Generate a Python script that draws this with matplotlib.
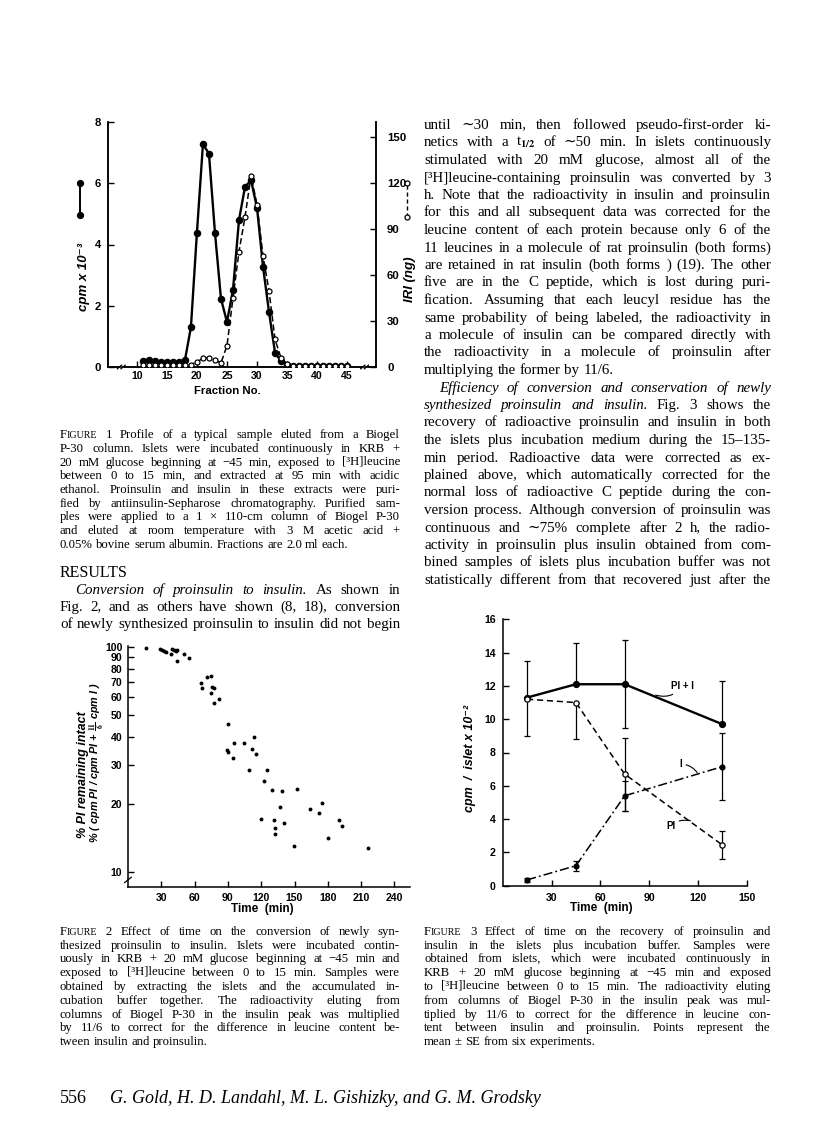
import math
import matplotlib
matplotlib.use('Agg')
import matplotlib.pyplot as plt
from matplotlib.ticker import FixedLocator, NullLocator, FixedFormatter

W, H = 816, 1127
SERIF = ['Liberation Serif', 'DejaVu Serif']
SANS = ['Liberation Sans', 'DejaVu Sans']

plt.rcParams['font.family'] = SANS
plt.rcParams['font.weight'] = 'bold'
plt.rcParams['mathtext.fontset'] = 'stix'

# ---- Figure 1: elution profile (fraction number)
fractions = list(range(11, 46))
cpm_e3 = [0.20, 0.22, 0.18, 0.15, 0.15, 0.17, 0.17, 0.22, 1.30, 4.39,
          7.27, 6.97, 4.39, 2.23, 1.47, 2.52, 4.80, 5.88, 6.10, 5.20,
          3.27, 1.79, 0.46, 0.19, 0.08, 0.03, 0.03, 0.03, 0.03, 0.03,
          0.03, 0.03, 0.03, 0.03, 0.03]
iri_ng = [1.0, 1.0, 1.0, 1.0, 1.0, 1.0, 1.0, 1.0, 1.6, 3.2,
          5.8, 5.8, 4.8, 2.6, 14.0, 45.0, 75.4, 98.0, 125.0, 106.0,
          72.4, 49.6, 18.0, 5.8, 2.0, 0.6, 0.6, 0.6, 0.6, 0.6,
          0.6, 0.6, 0.6, 0.6, 0.6]

# ---- Figure 2: % PI remaining intact vs time
time2 = [15.8, 28.7, 30.5, 32.3, 34.0, 38.5, 39.8, 41.5, 43.0, 44.0,
         44.4, 50.3, 54.8, 65.5, 67.0, 71.6, 75.2, 74.6, 76.0, 77.9,
         77.9, 82.4, 89.9, 89.4, 89.9, 94.5, 95.9, 104.9, 109.4, 113.9,
         111.5, 115.4, 124.9, 122.2, 129.9, 138.6, 152.1, 137.1, 119.8, 131.8,
         140.2, 132.1, 132.1, 149.5, 163.6, 172.0, 174.8, 179.9, 190.4, 192.6,
         216.5]
pi_intact = [98.7, 97.6, 96.5, 96.0, 95.2, 93.1, 98.0, 96.8, 95.5, 97.0,
             86.6, 93.0, 89.0, 69.0, 65.9, 73.3, 74.3, 62.2, 66.4, 66.0,
             56.2, 58.6, 45.4, 34.9, 34.3, 32.3, 37.3, 37.5, 28.4, 40.0,
             35.2, 33.6, 28.4, 25.5, 23.2, 23.0, 23.3, 19.5, 17.2, 17.05,
             16.6, 15.7, 14.8, 13.1, 19.1, 18.3, 20.3, 14.2, 17.0, 16.0,
             12.8]

# ---- Figure 3: recovery (mean +/- SE)
time3 = [15, 45, 75, 135]
pi_plus_i = [11.3, 12.1, 12.1, 9.7]
pi_plus_i_lo = [0.0, 0.0, 2.65, 0.0]
pi_plus_i_hi = [2.2, 2.45, 2.65, 2.6]
pi_only = [11.2, 11.0, 6.7, 2.45]
pi_only_lo = [2.2, 2.2, 2.2, 0.85]
pi_only_hi = [0.0, 0.0, 2.2, 0.85]
ins_only = [0.35, 1.2, 5.4, 7.15]
ins_only_err = [0.1, 0.3, 0.9, 2.0]

# ---- page text  (*word = italic, ^Word = small caps)
caption1 = [
    "^Figure 1  Profile of a typical sample eluted from a Biogel",
    "P-30 column. Islets were incubated continuously in KRB +",
    "20 mM glucose beginning at \u221245 min, exposed to [\u00b3H]leucine",
    "between 0 to 15 min, and extracted at 95 min with acidic",
    "ethanol. Proinsulin and insulin in these extracts were puri-",
    "fied by antiinsulin-Sepharose chromatography. Purified sam-",
    "ples were applied to a 1 \u00d7 110-cm column of Biogel P-30",
    "and eluted at room temperature with 3 M acetic acid +",
    "0.05% bovine serum albumin. Fractions are 2.0 ml each.",
]
results_lines = [
    "*Conversion *of *proinsulin *to *insulin.  As shown in",
    "Fig. 2, and as others have shown (8, 18), conversion",
    "of newly synthesized proinsulin to insulin did not begin",
]
right_body = [
    "until \u223c30 min, then followed pseudo-first-order ki-",
    "netics with a t$_{1/2}$ of \u223c50 min. In islets continuously",
    "stimulated with 20 mM glucose, almost all of the",
    "[\u00b3H]leucine-containing proinsulin was converted by 3",
    "h. Note that the radioactivity in insulin and proinsulin",
    "for this and all subsequent data was corrected for the",
    "leucine content of each protein because only 6 of the",
    "11 leucines in a molecule of rat proinsulin (both forms)",
    "are retained in rat insulin (both forms ) (19). The other",
    "five are in the C peptide, which is lost during puri-",
    "fication. Assuming that each leucyl residue has the",
    "same probability of being labeled, the radioactivity in",
    "a molecule of insulin can be compared directly with",
    "the radioactivity in a molecule of proinsulin after",
    "multiplying the former by 11/6.",
    "*Efficiency *of *conversion *and *conservation *of *newly",
    "*synthesized *proinsulin *and *insulin.  Fig. 3 shows the",
    "recovery of radioactive proinsulin and insulin in both",
    "the islets plus incubation medium during the 15\u2013135-",
    "min period. Radioactive data were corrected as ex-",
    "plained above, which automatically corrected for the",
    "normal loss of radioactive C peptide during the con-",
    "version process. Although conversion of proinsulin was",
    "continuous and \u223c75% complete after 2 h, the radio-",
    "activity in proinsulin plus insulin obtained from com-",
    "bined samples of islets plus incubation buffer was not",
    "statistically different from that recovered just after the",
]
caption2 = [
    "^Figure 2  Effect of time on the conversion of newly syn-",
    "thesized proinsulin to insulin. Islets were incubated contin-",
    "uously in KRB + 20 mM glucose beginning at \u221245 min and",
    "exposed to [\u00b3H]leucine between 0 to 15 min. Samples were",
    "obtained by extracting the islets and the accumulated in-",
    "cubation buffer together. The radioactivity eluting from",
    "columns of Biogel P-30 in the insulin peak was multiplied",
    "by 11/6 to correct for the difference in leucine content be-",
    "tween insulin and proinsulin.",
]
caption3 = [
    "^Figure 3  Effect of time on the recovery of proinsulin and",
    "insulin in the islets plus incubation buffer. Samples were",
    "obtained from islets, which were incubated continuously in",
    "KRB + 20 mM glucose beginning at \u221245 min and exposed",
    "to [\u00b3H]leucine between 0 to 15 min. The radioactivity eluting",
    "from columns of Biogel P-30 in the insulin peak was mul-",
    "tiplied by 11/6 to correct for the difference in leucine con-",
    "tent between insulin and proinsulin. Points represent the",
    "mean \u00b1 SE from six experiments.",
]


def fx(x):
    return x / W


def fy(y):
    return 1 - y / H


fig = plt.figure(figsize=(W / 100, H / 100), dpi=100)
fig.patch.set_facecolor('white')
rend = fig.canvas.get_renderer()


def word_pieces(w, size):
    if w.startswith('*'):
        return [(w[1:], size, 'italic')]
    if w.startswith('^'):
        w = w[1:]
        return [(w[0], size, 'normal'), (w[1:].upper(), size * 0.78, 'normal')]
    return [(w, size, 'normal')]


def pixel_drift(t, txt):
    # Agg rounds the glyph bitmap differently per word; work out by how
    # many pixels this word lands below its baseline so it can be undone
    if '$' in txt:
        return 0
    _, h, d = rend.get_text_width_height_descent(txt, t.get_fontproperties(), ismath=False)
    return round(d) - math.floor(h) + math.floor(h - d)


def set_line(line, x0, x1, y, size, justify=True, indent=0):
    # place word by word so the line fills the column
    y = round(y)
    words = []
    for w in line.split():
        pcs = []
        for txt, sz, st in word_pieces(w, size):
            t = fig.text(fx(x0), fy(y), txt, fontsize=sz, family=SERIF,
                         style=st, weight='normal', va='baseline', ha='left')
            t.set_y(fy(y - pixel_drift(t, txt)))
            pcs.append((t, t.get_window_extent(rend).width))
        words.append(pcs)
    used = sum(wd for pcs in words for _, wd in pcs)
    if justify and len(words) > 1:
        gap = (x1 - x0 - indent - used) / (len(words) - 1)
    else:
        gap = size * 100 / 72 * 0.25
    x = x0 + indent
    for pcs in words:
        for t, wd in pcs:
            t.set_x(fx(x))
            x += wd
        x += gap


def set_block(lines, x0, x1, y0, step, size, ragged=(), indented=(), indent=15):
    for i, line in enumerate(lines):
        set_line(line, x0, x1, y0 + i * step, size,
                 justify=(i not in ragged), indent=(indent if i in indented else 0))


def style_ticks(ax, size=7.5, pad=4):
    ax.tick_params(direction='in', length=4, width=1.0, labelsize=size, pad=pad)
    for lab in ax.get_xticklabels() + ax.get_yticklabels():
        lab.set_fontweight('bold')


# ================= Figure 1 =================
ax1 = fig.add_axes([fx(108), fy(367), (376 - 108) / W, (367 - 122) / H])
ax1.set_xlim(5.2, 49.8)
ax1.set_ylim(0, 8)
ax1.plot(fractions, cpm_e3, '-o', color='black', lw=1.7, ms=4.4, zorder=3)
ax1.set_xticks(range(10, 50, 5))
ax1.set_yticks([0, 2, 4, 6, 8])
ax1.spines['top'].set_visible(False)
for s in ax1.spines.values():
    s.set_linewidth(1.1)
style_ticks(ax1, size=8.2, pad=5)
ax1.tick_params(axis='x', labelsize=7.6, pad=3)

ax1r = ax1.twinx()
ax1r.set_ylim(0, 160)
ax1r.plot(fractions, iri_ng, '--o', color='black', lw=1.1, dashes=(4, 2),
          ms=3.6, mfc='white', mec='black', mew=0.9, zorder=4)
ax1r.set_yticks([0, 30, 60, 90, 120, 150])
ax1r.spines['top'].set_visible(False)
for s in ax1r.spines.values():
    s.set_linewidth(1.1)
style_ticks(ax1r, size=8.2, pad=8)

# axis breaks on the fraction axis
for xb in (7.2, 47.7):
    ax1.plot([xb - 0.15, xb + 0.55], [0, 0], color='white', lw=2.5,
             clip_on=False, zorder=5, solid_capstyle='butt')
    for dx in (0.0, 0.6):
        ax1.plot([xb - 0.45 + dx, xb + 0.25 + dx], [-0.06, 0.06], color='black',
                 lw=0.9, clip_on=False, zorder=6)

# line keys beside each axis
ax1.plot([0.5, 0.5], [4.95, 6.0], '-o', color='black', lw=1.4, ms=4.2, clip_on=False)
ax1r.plot([55.0, 55.0], [98, 120], '--o', color='black', lw=1.0, dashes=(3, 2),
          ms=3.6, mfc='white', mec='black', mew=0.9, clip_on=False)

fig.text(fx(84), fy(277), 'cpm x 10\u207b\u00b3', rotation=90, ha='center', va='center',
         fontsize=9.5, style='italic', weight='bold', family=SANS)
fig.text(fx(410), fy(279), 'IRI (ng)', rotation=90, ha='center', va='center',
         fontsize=9.5, style='italic', weight='bold', family=SANS)
fig.text(fx(227), fy(391), 'Fraction No.', ha='center', va='center',
         fontsize=8.2, weight='bold', family=SANS)

# ================= Figure 2 =================
ax2 = fig.add_axes([fx(128), fy(887), (410 - 128) / W, (887 - 646) / H])
ax2.set_yscale('log')
ax2.set_xlim(0, 254)
ax2.set_ylim(8.6, 101)
ax2.plot(time2, pi_intact, 'o', color='black', ms=2.8, mew=0)
ax2.xaxis.set_major_locator(FixedLocator([30, 60, 90, 120, 150, 180, 210, 240]))
yt2 = [10, 20, 30, 40, 50, 60, 70, 80, 90, 100]
ax2.yaxis.set_major_locator(FixedLocator(yt2))
ax2.yaxis.set_major_formatter(FixedFormatter([str(v) for v in yt2]))
ax2.yaxis.set_minor_locator(NullLocator())
ax2.spines['top'].set_visible(False)
ax2.spines['right'].set_visible(False)
for s in ax2.spines.values():
    s.set_linewidth(1.1)
style_ticks(ax2, size=7.6, pad=4)
ax2.plot([-3, 3], [9.0, 9.5], color='black', lw=0.9, clip_on=False)

fig.text(fx(83), fy(775), '% PI remaining intact', rotation=90, ha='center', va='center',
         fontsize=9, style='italic', weight='bold', family=SANS)
fig.text(fx(98), fy(763), r'% ( cpm PI / cpm PI + $\mathbf{\frac{11}{6}}$ cpm I )', rotation=90,
         ha='center', va='center', fontsize=7.8, style='italic', weight='bold', family=SANS)
fig.text(fx(262), fy(909), 'Time  (min)', ha='center', va='center',
         fontsize=8.5, weight='bold', family=SANS)

# ================= Figure 3 =================
ax3 = fig.add_axes([fx(502.7), fy(885.7), (746.7 - 502.7) / W, (885.7 - 619.3) / H])
ax3.set_xlim(0, 150)
ax3.set_ylim(0, 16)
ax3.errorbar(time3, pi_plus_i, yerr=[pi_plus_i_lo, pi_plus_i_hi], fmt='-o', color='black',
             lw=1.7, ms=4.2, elinewidth=0.9, capsize=2.5, capthick=0.9, zorder=3)
ax3.errorbar(time3, pi_only, yerr=[pi_only_lo, pi_only_hi], fmt='--o', color='black',
             lw=1.1, dashes=(4, 2.5), ms=3.8, mfc='white', mec='black', mew=0.9,
             elinewidth=0.9, capsize=2.5, capthick=0.9, zorder=4)
ax3.errorbar(time3, ins_only, yerr=ins_only_err, fmt='-o', color='black',
             lw=1.1, dashes=(6, 2, 1.2, 2), ms=3.4, elinewidth=0.9, capsize=2.5,
             capthick=0.9, zorder=3)
ax3.set_xticks([30, 60, 90, 120, 150])
ax3.set_yticks(range(0, 17, 2))
ax3.spines['top'].set_visible(False)
ax3.spines['right'].set_visible(False)
for s in ax3.spines.values():
    s.set_linewidth(1.1)
style_ticks(ax3, size=7.6, pad=5)

lead = dict(arrowstyle='-', lw=0.8, color='black', shrinkA=1, shrinkB=0)
ax3.annotate('PI + I', xy=(94.0, 11.45), xytext=(103.5, 12.0), fontsize=7, weight='bold',
             va='center', family=SANS,
             arrowprops=dict(connectionstyle='arc3,rad=-0.35', **lead))
ax3.annotate('I', xy=(119.5, 6.8), xytext=(108.6, 7.3), fontsize=7, weight='bold',
             va='center', family=SANS,
             arrowprops=dict(connectionstyle='arc3,rad=-0.25', **lead))
ax3.annotate('PI', xy=(115.5, 3.9), xytext=(100.4, 3.6), fontsize=7, weight='bold',
             va='center', family=SANS,
             arrowprops=dict(connectionstyle='arc3,rad=-0.25', **lead))

fig.text(fx(470), fy(758), 'cpm  /  islet x 10\u207b\u00b2', rotation=90, ha='center',
         va='center', fontsize=9, style='italic', weight='bold', family=SANS)
fig.text(fx(601), fy(908), 'Time  (min)', ha='center', va='center',
         fontsize=8.5, weight='bold', family=SANS)

# ================= text columns =================
set_block(caption1, 60, 400, 438, 13.75, 9.2, ragged={8})
fig.text(fx(60), fy(577), 'RESULTS', fontsize=11.5, family=SERIF, weight='normal',
         va='baseline')
set_block(results_lines, 60, 400, 594, 17.2, 10.8, indented={0})
set_block(right_body, 424, 771, 129, 17.5, 10.8, ragged={14}, indented={15})
set_block(caption2, 60, 400, 935, 13.75, 9.2, ragged={8})
set_block(caption3, 424, 771, 935, 13.75, 9.2, ragged={8})

fig.text(fx(60), fy(1103), '556', fontsize=13, family=SERIF, weight='normal',
         va='baseline')
fig.text(fx(110), fy(1103), 'G. Gold, H. D. Landahl, M. L. Gishizky, and G. M. Grodsky',
         fontsize=13, family=SERIF, style='italic', weight='normal', va='baseline')

fig.savefig('out.png', dpi=100, facecolor='white')
